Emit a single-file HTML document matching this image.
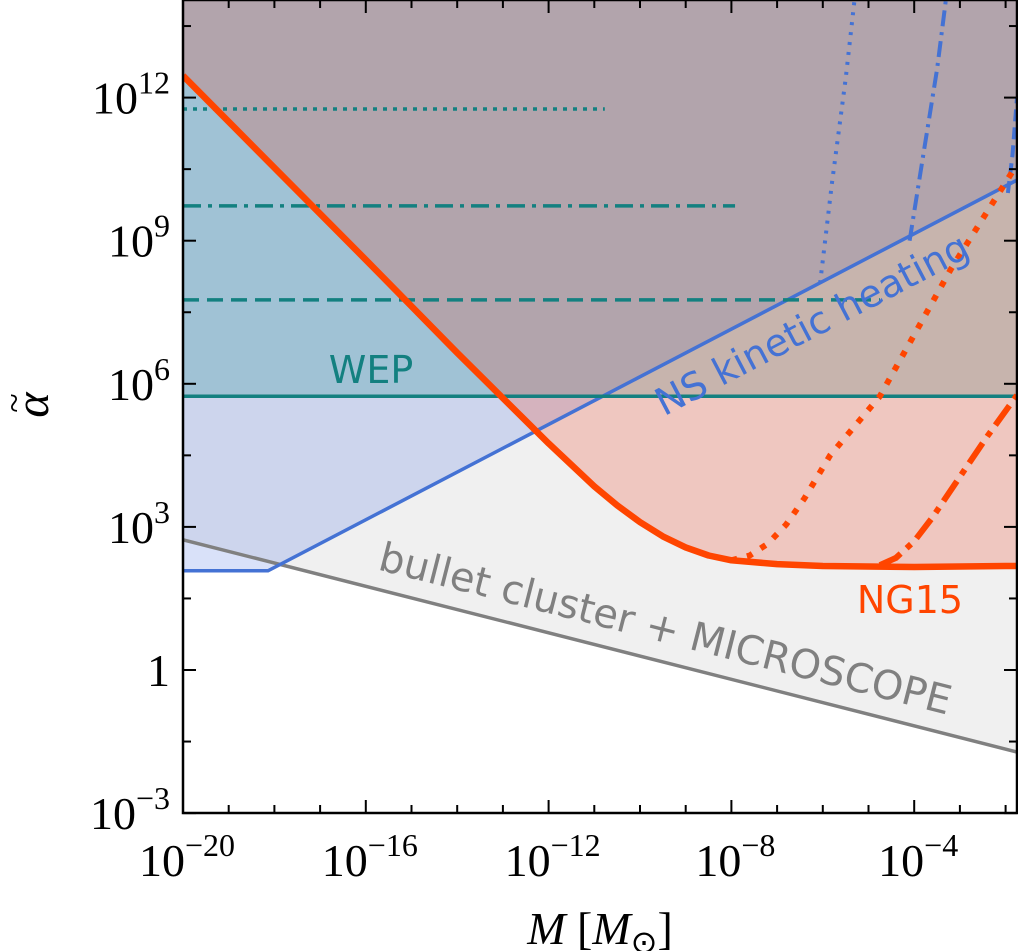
<!DOCTYPE html>
<html><head><meta charset="utf-8"><style>
body{margin:0;background:#fff}
svg{display:block}
text{font-family:"Liberation Serif",serif}
</style></head><body>
<svg id="chart" width="1018" height="951" viewBox="0 0 1018 951">
<defs><clipPath id="clip"><rect x="183" y="0" width="834" height="813"/></clipPath></defs>
<g id="fills" clip-path="url(#clip)"></g>
<g id="lines" clip-path="url(#clip)"></g>
<g id="axes"></g>
</svg>
<script>
// data (log10 M, log10 alpha)
const bulletX = [-20, -1.75];
const bulletY = [2.73, -1.72];
const nsX = [-20, -18.14, -1.75];
const nsY = [2.08, 2.08, 10.27];
const wepLevels = [5.74, 7.76, 9.73, 11.76];
const wepEnds = [-1.75, -4.75, -7.92, -10.77];
const wepDash = ["", "16,8", "18,7,4,7", "4,6"];
const ngX = [-20, -16, -14, -12, -11, -10.5, -10, -9.5, -9, -8.5, -8, -7, -6, -4, -2, -1.75];
const ngY = [12.46, 8.6, 6.65, 4.75, 3.85, 3.45, 3.1, 2.8, 2.57, 2.4, 2.3, 2.22, 2.18, 2.16, 2.18, 2.18];
const ngDotX = [-8, -7.6, -7.2, -6.8, -6.4, -5.84, -4.75, -3.2, -1.75];
const ngDotY = [2.3, 2.4, 2.65, 3.05, 3.6, 4.5, 5.74, 8.4, 10.6];
const ngDdX = [-4.75, -4.4, -4.0, -3.6, -3.0, -2.4, -1.75];
const ngDdY = [2.2, 2.35, 2.7, 3.2, 4.05, 4.9, 5.76];
const bDotX = [-6.06, -5.8, -5.5, -5.3];
const bDotY = [8.11, 10.2, 12.4, 14.1];
const bDdX = [-4.1, -3.8, -3.5, -3.3];
const bDdY = [9.0, 10.8, 12.6, 14.1];
const bDashX = [-1.95, -1.85, -1.75];
const bDashY = [10.0, 10.8, 12.0];
const xTickLabels = [-20, -16, -12, -8, -4];
const yTickLabels = [12, 9, 6, 3, 0, -3];

const X0=183, PX=45.7, Y0=670, PY=47.7;
const sx = v => X0 + (v + 20) * PX;
const sy = v => Y0 - v * PY;
const NS = "http://www.w3.org/2000/svg";
function mk(tag, attrs, parent){const e=document.createElementNS(NS,tag);for(const k in attrs)e.setAttribute(k,attrs[k]);parent.appendChild(e);return e;}
const pts = (xs,ys) => xs.map((x,i)=>sx(x).toFixed(1)+","+sy(ys[i]).toFixed(1));
const F=document.getElementById('fills'), L=document.getElementById('lines'), A=document.getElementById('axes');
const TOP=sy(14.5);

let p;
p=mk('polygon',{points:pts(bulletX,bulletY).concat([sx(-1.75)+","+TOP, sx(-20)+","+TOP]).join(' '),fill:'#f0f0f0'},F);


p=mk('polygon',{points:pts(nsX,nsY).concat([sx(-1.75)+","+TOP, sx(-20)+","+TOP]).join(' '),fill:'rgb(65,105,225)','fill-opacity':0.2},F);


p=mk('rect',{x:183,y:TOP,width:834,height:sy(wepLevels[0])-TOP,fill:'rgb(0,128,128)','fill-opacity':0.22},F);


p=mk('polygon',{points:pts(ngX,ngY).concat([sx(-1.75)+","+TOP, sx(-20)+","+TOP]).join(' '),fill:'rgb(240,70,40)','fill-opacity':0.24},F);



p=mk('polyline',{points:pts(bulletX,bulletY).join(' '),fill:'none',stroke:'#808080','stroke-width':3.5},L);


p=mk('polyline',{points:pts(nsX,nsY).join(' '),fill:'none',stroke:'#4472d4','stroke-width':3.5},L);


p=mk('polyline',{points:pts(bDotX,bDotY).join(' '),fill:'none',stroke:'#4472d4','stroke-width':4,'stroke-dasharray':'3,7'},L);


p=mk('polyline',{points:pts(bDdX,bDdY).join(' '),fill:'none',stroke:'#4472d4','stroke-width':4,'stroke-dasharray':'16,6,3,6'},L);


p=mk('polyline',{points:pts(bDashX,bDashY).join(' '),fill:'none',stroke:'#4472d4','stroke-width':4,'stroke-dasharray':'12,6'},L);


wepLevels.forEach((lv,i)=>{
  const l=mk('line',{x1:sx(-20),x2:sx(wepEnds[i]),y1:sy(lv),y2:sy(lv),stroke:'#138080','stroke-width':3.5},L);
  if(wepDash[i]) l.setAttribute('stroke-dasharray',wepDash[i]);
  
  
});
p=mk('polyline',{points:pts(ngDotX,ngDotY).join(' '),fill:'none',stroke:'#ff4500','stroke-width':6,'stroke-dasharray':'6,10'},L);


p=mk('polyline',{points:pts(ngDdX,ngDdY).join(' '),fill:'none',stroke:'#ff4500','stroke-width':6,'stroke-dasharray':'24,8,6,8'},L);


p=mk('polyline',{points:pts(ngX,ngY).join(' '),fill:'none',stroke:'#ff4500','stroke-width':6.5,'stroke-linejoin':'round'},L);



// labels
function lab(txt,x,y,color,size,rot,name){const t=mk('text',{x:x,y:y,fill:color,'font-size':size,'text-anchor':'middle',transform:rot?`rotate(${rot} ${x} ${y})`:''},L);t.textContent=txt;t.style.fontFamily='"DejaVu Sans","Liberation Sans",sans-serif';

}
lab('WEP',371,383,'#138080',38,0,'wep-label');
lab('NS kinetic heating',818,336,'#4472d4',38,-27.6,'ns-heating-label');
lab('NG15',910,613,'#ff4500',38,0,'ng15-label');
lab('bullet cluster + MICROSCOPE',662,642,'#808080',40,14.3,'bullet-cluster-label');

// frame
p=mk('rect',{x:183,y:0,width:834,height:813,fill:'none',stroke:'#000','stroke-width':2.5},A);


for(let d=-20;d<=-2;d++){
  const x=sx(d), big=(d%4===0);const len=big?13:8;
  mk('line',{x1:x,x2:x,y1:813,y2:813-len,stroke:'#000','stroke-width':2},A);
  mk('line',{x1:x,x2:x,y1:0,y2:len,stroke:'#000','stroke-width':2},A);
}
for(let v=-3;v<=13.5;v+=1.5){
  const y=sy(v), big=(Math.abs(v%3)<0.01);const len=big?13:8;
  mk('line',{x1:183,x2:183+len,y1:y,y2:y,stroke:'#000','stroke-width':2},A);
  mk('line',{x1:1017,x2:1017-len,y1:y,y2:y,stroke:'#000','stroke-width':2},A);
}
xTickLabels.forEach(d=>{
  const t=mk('text',{x:sx(d)+4,y:876,'font-size':46,'text-anchor':'middle'},A);
  t.innerHTML='10<tspan dy="-20" font-size="32">'+String(d).replace('-','\u2212')+'</tspan>';
  
  
});
yTickLabels.forEach(v=>{
  const t=mk('text',{x:170,y:sy(v)+16,'font-size':46,'text-anchor':'end'},A);
  if(v===0) t.textContent='1';
  else t.innerHTML='10<tspan dy="-20" font-size="32">'+String(v).replace('-','\u2212')+'</tspan>';
  
  
});
let t=mk('text',{x:600,y:944,'font-size':46,'text-anchor':'middle'},A);
t.innerHTML='<tspan font-style="italic">M</tspan> [<tspan font-style="italic">M</tspan><tspan font-size="32" dy="9">\u2299</tspan><tspan dy="-9">]</tspan>';


const g=mk('g',{transform:'translate(48 405) rotate(-90)'},A);


t=mk('text',{x:0,y:0,'font-size':48,'text-anchor':'middle','font-style':'italic'},g);
t.textContent='\u03B1';
t=mk('text',{x:2,y:-22,'font-size':36,'text-anchor':'middle'},g);
t.textContent='~';
</script>
</body></html>
